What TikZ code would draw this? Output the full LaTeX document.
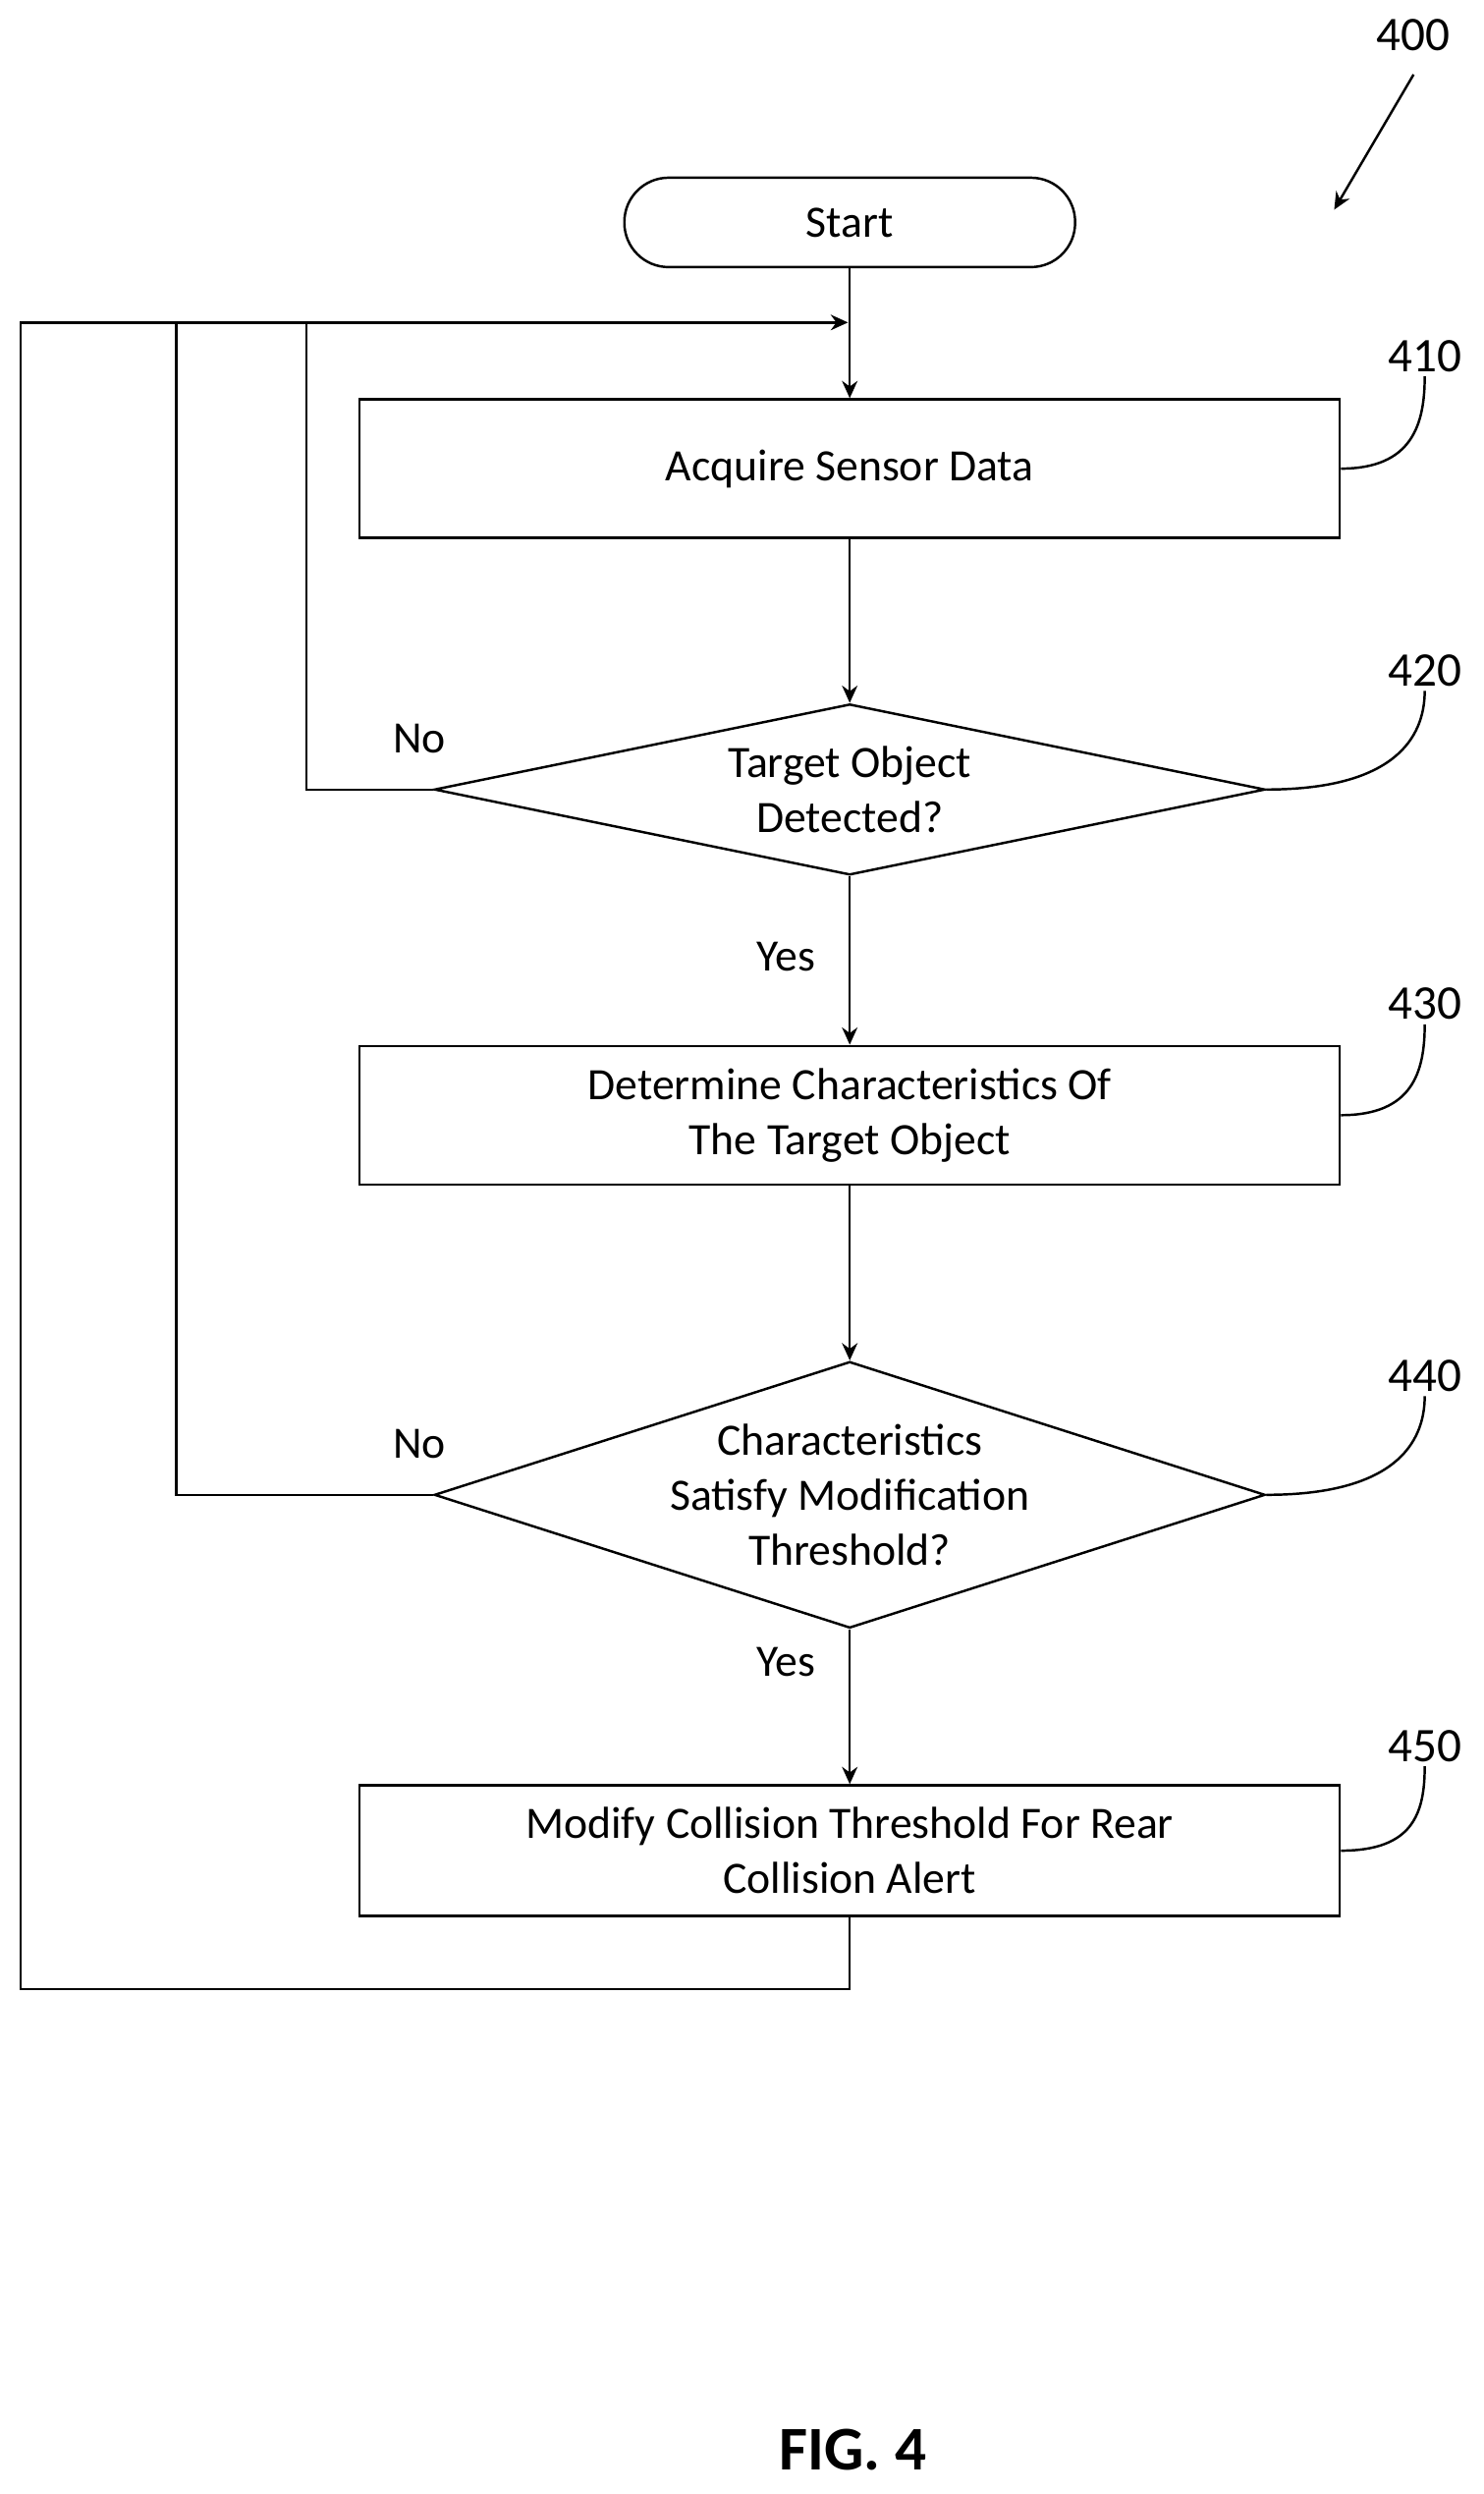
\documentclass[tikz,border=0pt]{standalone}
\usepackage{fontspec}
\setmainfont{Carlito}
\usetikzlibrary{arrows.meta,positioning,shapes.geometric}

\begin{document}
\begin{tikzpicture}[
  x=0.01617cm, y=-0.01617cm,
  line width=0.7pt,
  every node/.style={font=\fontsize{13}{16}\selectfont, align=center},
  box/.style={draw, minimum width=9.98cm, minimum height=1.41cm},
  term/.style={draw, rounded corners=0.45cm, minimum width=4.59cm, minimum height=0.91cm},
  decision/.style={draw, diamond, aspect=2.89, minimum width=8.46cm, inner sep=0pt},
  num/.style={inner sep=1pt, font=\fontsize{14}{16}\selectfont},
  arrow/.style={-{Stealth[length=5pt,width=4.5pt]}}
]
\useasboundingbox (0,0) rectangle (934,1570);

\node[term] (start) at (535,140) {Start};
\node[box] (acquire) at (535,295) {Acquire Sensor Data};
\node[decision] (detected) at (535,497) {Target Object\\Detected?};
\node[box] (determine) at (535,702) {Determine Characteristics Of\\The Target Object};
\node[decision] (satisfy) at (535,941) {Characteristics\\Satisfy Modification\\Threshold?};
\node[box, minimum height=1.33cm] (modify) at (535,1165) {Modify Collision Threshold For Rear\\Collision Alert};

\coordinate (join) at (535,203);

% reference numerals
\node[num] (l400) at (890,22) {400};
\node[num] (l410) at (897,224) {410};
\node[num] (l420) at (897,422) {420};
\node[num] (l430) at (897,632) {430};
\node[num] (l440) at (897,866) {440};
\node[num] (l450) at (897,1099) {450};
\draw[arrow] (l400.south) ++(0,12) -- (840,132);
\draw (acquire.east) .. controls +(45,0) and +(0,30) .. (l410.south);
\draw (detected.east) .. controls +(80,0) and +(0,30) .. (l420.south);
\draw (determine.east) .. controls +(45,0) and +(0,30) .. (l430.south);
\draw (satisfy.east) .. controls +(80,0) and +(0,30) .. (l440.south);
\draw (modify.east) .. controls +(45,0) and +(0,30) .. (l450.south);

% flow
\draw[arrow] (start) -- (acquire);
\draw[arrow] (acquire) -- (detected);
\draw[arrow] (detected) -- (determine);
\draw[arrow] (determine) -- (satisfy);
\draw[arrow] (satisfy) -- (modify);
\node (yes1) at (495,602) {Yes};
\node (yes2) at (495,1046) {Yes};
\node (no1) at (264,465) {No};
\node (no2) at (264,909) {No};

% loops back
\draw (detected.west) -- (193,497) -- (193,203);
\draw (satisfy.west) -- (111,941) -- (111,203);
\draw[arrow] (modify.south) -- (535,1252) -- (13,1252) -- (13,203) -- ([xshift=-0.5pt]join);

\node[font=\bfseries\fontsize{18}{22}\selectfont] (fig) at (537,1542) {FIG. 4};
\end{tikzpicture}
\end{document}
